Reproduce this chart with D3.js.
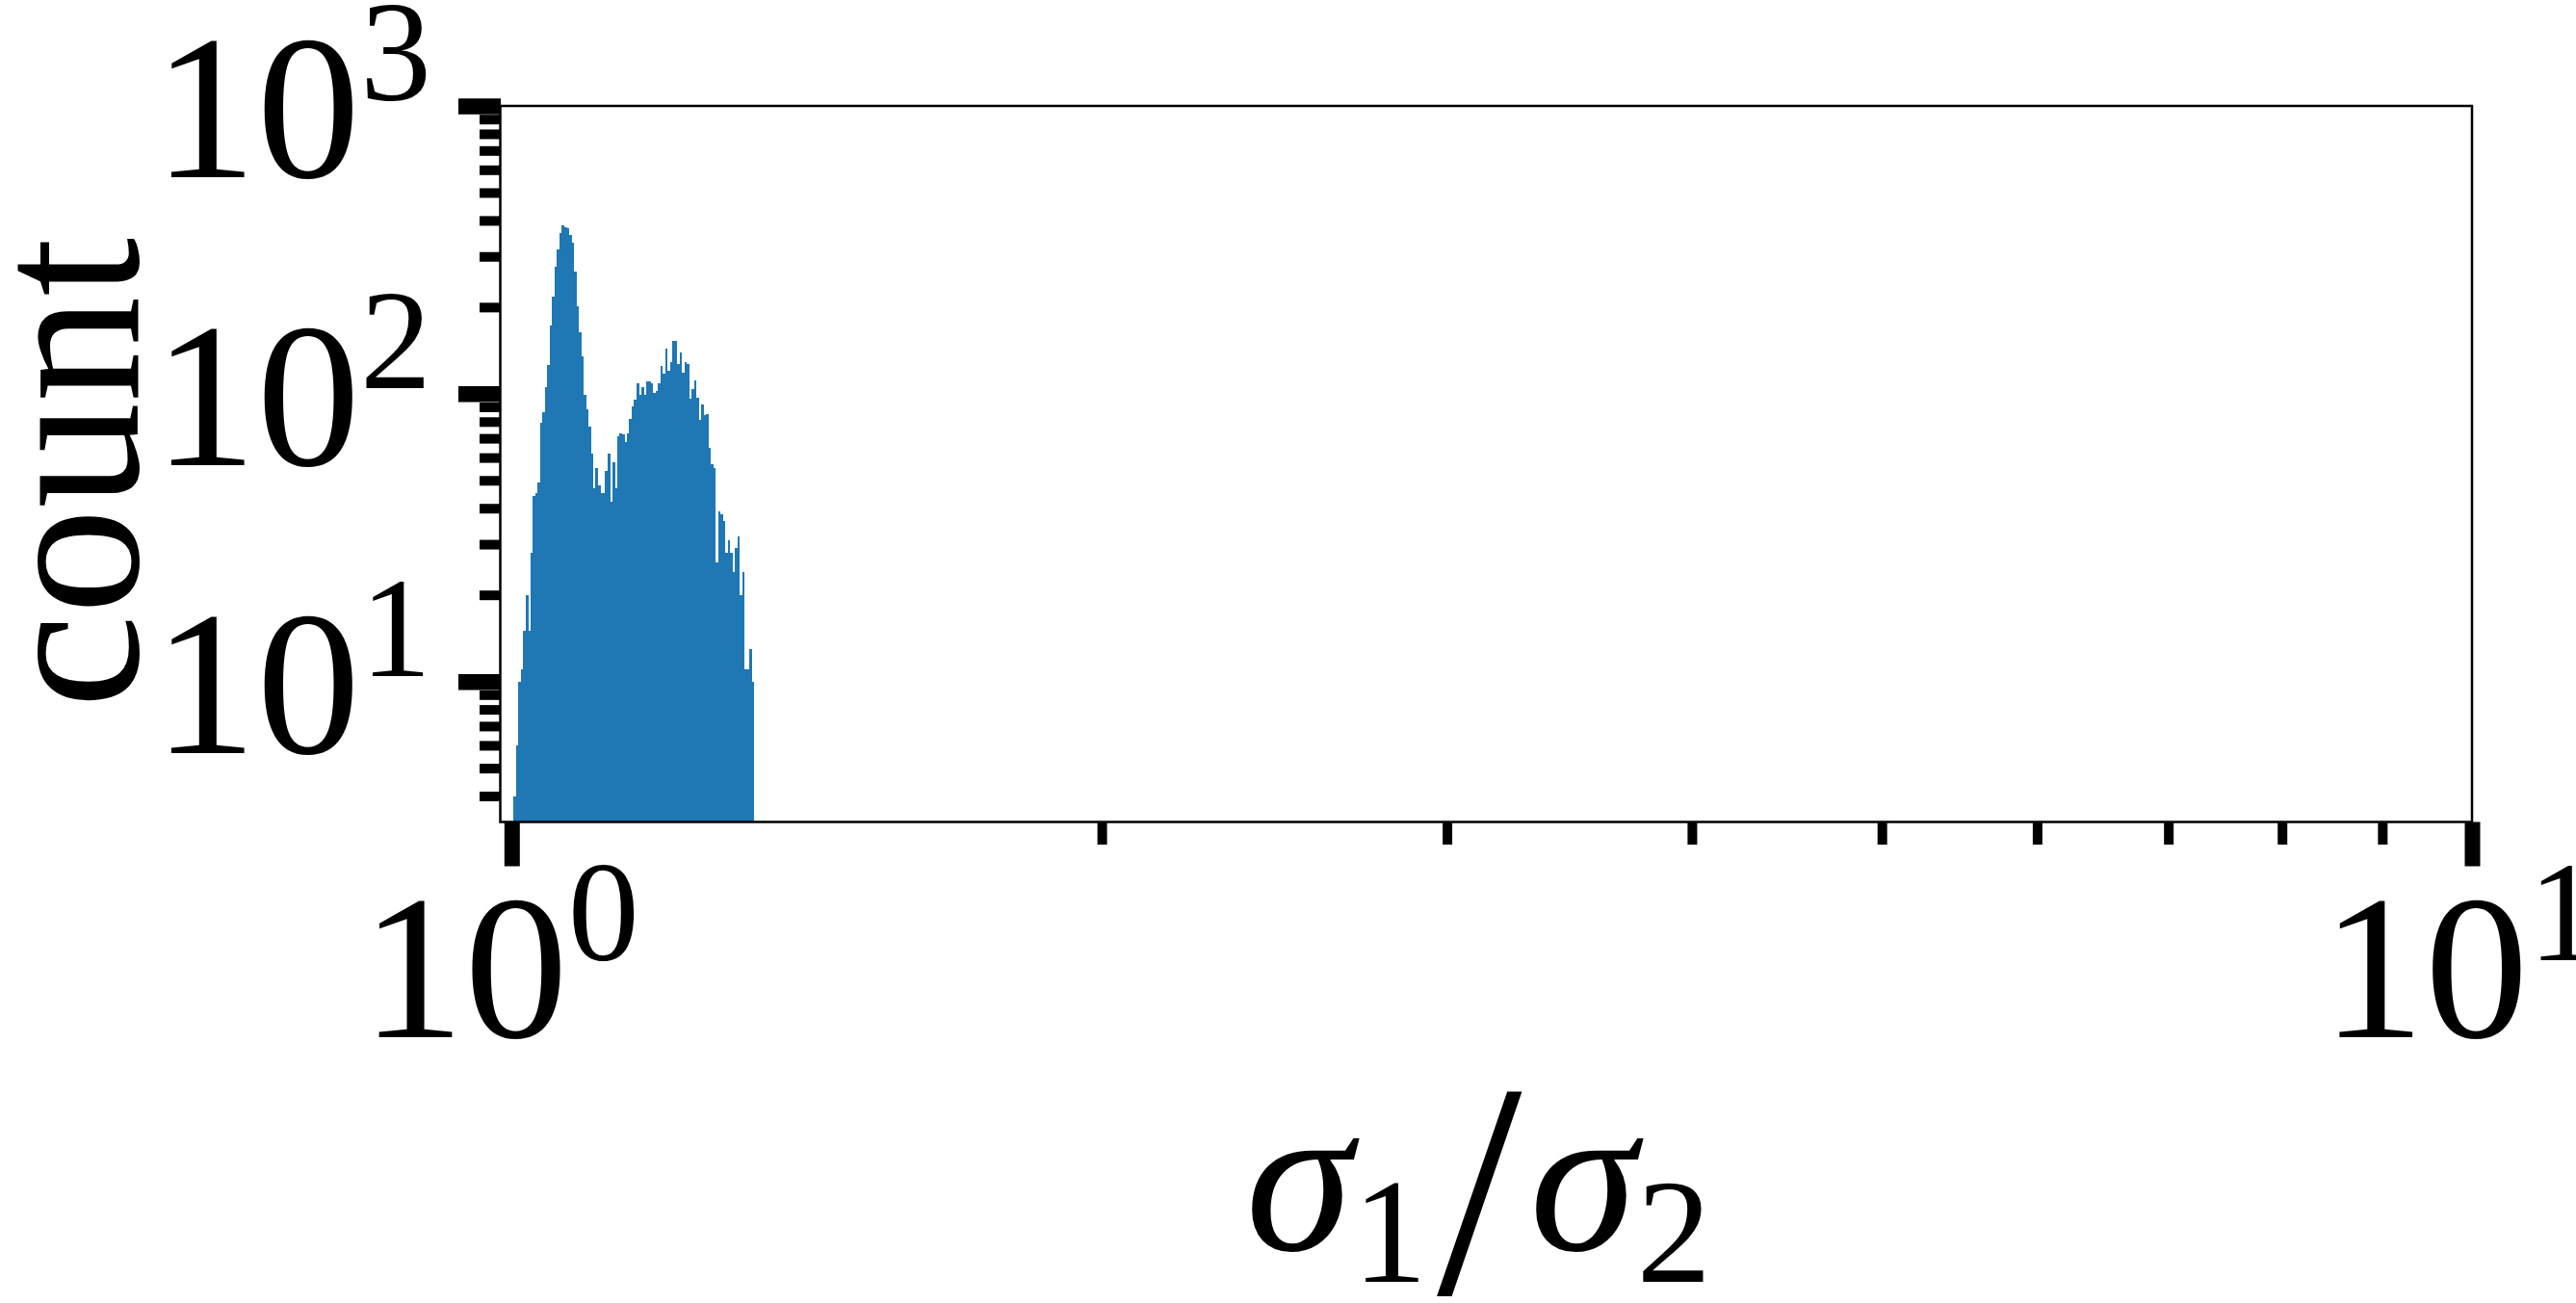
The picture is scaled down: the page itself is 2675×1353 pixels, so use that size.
<!DOCTYPE html>
<html>
<head>
<meta charset="utf-8">
<script src="https://cdn.jsdelivr.net/npm/d3@7"></script>
<style>
  html, body { margin: 0; padding: 0; background: #ffffff; }
  svg { display: block; }
</style>
</head>
<body>
<svg id="chart" width="2675" height="1353"></svg>
<script>
// ---- data ----
const counts = [4,6,10,11,15,20,15,28,44,45,
  49,79,86,105,126,172,218,277,318,362,
  385,379,376,357,334,266,202,164,135,99,
  88,77,62,47,55,48,45,45,54,62,
  42,58,47,71,73,72,68,73,82,90,
  95,109,99,105,99,110,110,109,101,102,
  109,125,117,143,120,129,152,152,127,139,
  118,129,127,96,104,111,97,81,92,84,
  85,65,57,55,26,39,38,36,28,31,
  28,24,29,32,20,24,11,11,13,10];
const binMin = 1.00226;   // left edge of first bin
const binMax = 1.32954;   // right edge of last bin
const xDomain = [0.98674, 10];
const yDomain = [3.25, 1000];
const xMajorTicks = [1, 10];
const xMajorExp = ["0", "1"];
const yMajorTicks = [10, 100, 1000];
const yMajorExp = ["1", "2", "3"];
const yLabel = "count";

(function () {
// ---- layout ----
const W = 2675, H = 1353;
const pL = 519.5, pR = 2567, pT = 110, pB = 853.5;
const blue = "#1f77b4";
const font = "'Liberation Serif', 'DejaVu Serif', serif";

const svg = d3.select("#chart");
svg.append("rect").attr("width", W).attr("height", H).attr("fill", "#fff");

const x = d3.scaleLog().domain(xDomain).range([pL, pR]);
const y = d3.scaleLog().domain(yDomain).range([pB, pT]);

// log-spaced bin edges (histogram binning)
const n = counts.length;
const edges = d3.range(n + 1).map(i => binMin * Math.pow(binMax / binMin, i / n));
const bins = counts.map((c, i) => ({x0: edges[i], x1: edges[i + 1], c}));

svg.append("g").selectAll("rect").data(bins).join("rect")
  .attr("x", d => x(d.x0))
  .attr("width", d => x(d.x1) - x(d.x0) + 0.3)
  .attr("y", d => y(d.c))
  .attr("height", d => pB - y(d.c))
  .attr("fill", blue)
  .attr("shape-rendering", "crispEdges");

// frame
svg.append("rect")
  .attr("x", pL).attr("y", pT)
  .attr("width", pR - pL).attr("height", pB - pT)
  .attr("fill", "none").attr("stroke", "#000").attr("stroke-width", 2.5);

// minor tick values from the scales
const xMinor = x.ticks().filter(v => !xMajorTicks.includes(v));
const yMinor = y.ticks().filter(v => !yMajorTicks.includes(v));

function styleAxis(g, w) {
  g.select(".domain").remove();
  g.selectAll(".tick line").attr("stroke", "#000").attr("stroke-width", w);
  g.selectAll(".tick text").remove();
}

svg.append("g").attr("transform", `translate(${pL + 0.5},0)`)
  .call(d3.axisLeft(y).tickValues(yMinor).tickSize(22).tickFormat(""))
  .call(g => styleAxis(g, 10));
svg.append("g").attr("transform", `translate(${pL + 0.5},0)`)
  .call(d3.axisLeft(y).tickValues(yMajorTicks).tickSize(44).tickFormat(""))
  .call(g => styleAxis(g, 16.5));
svg.append("g").attr("transform", `translate(0,${pB})`)
  .call(d3.axisBottom(x).tickValues(xMinor).tickSize(23.5).tickFormat(""))
  .call(g => styleAxis(g, 10));
svg.append("g").attr("transform", `translate(0,${pB})`)
  .call(d3.axisBottom(x).tickValues(xMajorTicks).tickSize(46).tickFormat(""))
  .call(g => styleAxis(g, 16));

// y tick labels 10^k
const yl = svg.append("g").selectAll("text").data(yMajorTicks).join("text")
  .attr("x", 448)
  .attr("y", d => y(d) + 74)
  .attr("text-anchor", "end")
  .attr("font-family", font)
  .attr("font-size", 215)
  .attr("fill", "#000");
yl.append("tspan").text("10");
yl.append("tspan").attr("font-size", 148).attr("dy", -80).text((d, i) => yMajorExp[i]);

// x tick labels 10^k
const xl = svg.append("g").selectAll("text").data(xMajorTicks).join("text")
  .attr("x", d => x(d) - 12)
  .attr("y", 1077)
  .attr("text-anchor", "middle")
  .attr("font-family", font)
  .attr("font-size", 215)
  .attr("fill", "#000");
xl.append("tspan").text("10");
xl.append("tspan").attr("font-size", 148).attr("dy", -80).text((d, i) => xMajorExp[i]);

// y axis label
svg.append("text")
  .attr("transform", "translate(143,491) rotate(-90)")
  .attr("text-anchor", "middle")
  .attr("font-family", font)
  .attr("font-size", 220)
  .attr("fill", "#000")
  .text(yLabel);

// x axis label: sigma_1 / sigma_2
const xt = svg.append("text")
  .attr("x", (pL + pR) / 2 - 8)
  .attr("y", 1298)
  .attr("text-anchor", "middle")
  .attr("font-family", font)
  .attr("font-size", 225)
  .attr("fill", "#000");
xt.append("tspan").attr("font-style", "italic").text("σ");
xt.append("tspan").attr("font-size", 155).attr("dy", 33).text("1");
xt.append("tspan").attr("font-size", 318).attr("dy", 12).attr("dx", 10).text("/");
xt.append("tspan").attr("font-style", "italic").attr("dy", -45).attr("dx", 8).text("σ");
xt.append("tspan").attr("font-size", 155).attr("dy", 33).text("2");
})();
</script>
</body>
</html>
